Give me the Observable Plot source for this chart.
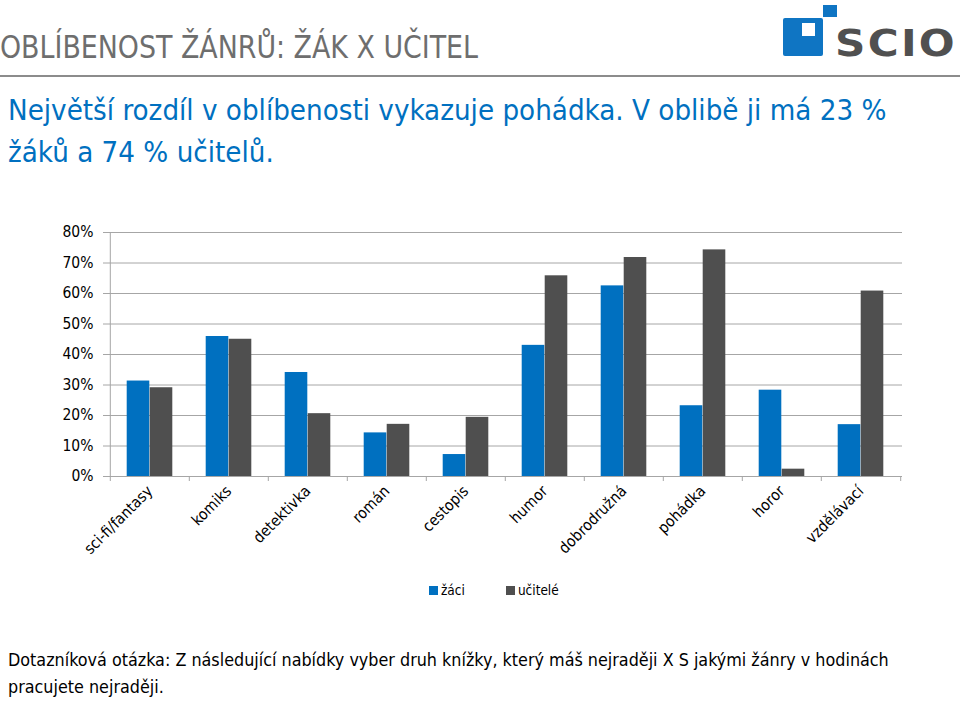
<!DOCTYPE html>
<html><head><meta charset="utf-8">
<script src="https://cdn.jsdelivr.net/npm/d3@7"></script>
<script src="https://cdn.jsdelivr.net/npm/@observablehq/plot@0.6"></script>
<style>
body{margin:0;background:#fff;width:960px;height:722px;position:relative;overflow:hidden;font-family:"DejaVu Sans Condensed","DejaVu Sans",Tahoma,sans-serif}
#title{position:absolute;left:0;top:27px;font-size:32px;line-height:40px;color:#6e6e6e;white-space:nowrap;transform-origin:0 0}
#rule{position:absolute;left:0;top:75px;width:960px;height:2px;background:#8c8c8c}
#subtitle{position:absolute;left:8px;top:89px;font-size:29.2px;line-height:42px;color:#0070c0;width:945px}
#chart{position:absolute;left:0;top:220px}
#legend{position:absolute;top:582px;left:429px;font-size:13.5px;color:#000;display:flex;align-items:center;white-space:nowrap}
#legend .sw{display:inline-block;width:9px;height:9px;margin-right:3px}
#caption{position:absolute;left:8px;top:646px;font-size:17.8px;line-height:27px;color:#000;white-space:nowrap}
.logo{position:absolute}
#scio{font-family:"DejaVu Sans",sans-serif;font-weight:bold;font-size:37px;letter-spacing:2px;color:#505050;line-height:40px;white-space:nowrap;transform-origin:0 0}
</style></head>
<body>
<div id="title">OBLÍBENOST ŽÁNRŮ: ŽÁK X UČITEL</div>
<div id="rule"></div>
<div class="logo" style="left:783px;top:18px;width:40px;height:38px;background:#0f75c3;border-radius:2px"></div>
<div class="logo" style="left:802px;top:23px;width:13px;height:13px;background:#fff"></div>
<div class="logo" style="left:823px;top:5px;width:14px;height:12px;background:#0f75c3"></div>
<div class="logo" id="scio" style="left:835px;top:24px">SCIO</div>
<div id="subtitle">Největší rozdíl v oblíbenosti vykazuje pohádka. V oblibě ji má 23 % žáků a 74 % učitelů.</div>
<div id="chart"></div>
<div id="legend"><span class="sw" style="background:#0070c0"></span><span style="margin-right:41px">žáci</span><span class="sw" style="background:#4f4f4f"></span><span>učitelé</span></div>
<div id="caption">Dotazníková otázka: Z následující nabídky vyber druh knížky, který máš nejraději X S jakými žánry v hodinách<br>pracujete nejraději.</div>
<script>
const categories = ["sci-fi/fantasy","komiks","detektivka","román","cestopis","humor","dobrodružná","pohádka","horor","vzdělávací"];
const seriesNames = ["žáci","učitelé"];
const zaci    = [31.3, 45.9, 34.1, 14.3, 7.2, 43.0, 62.5, 23.2, 28.3, 17.0];
const ucitele = [29.1, 45.0, 20.6, 17.1, 19.4, 65.8, 71.8, 74.3, 2.4, 60.8];
const yTicks = [0,10,20,30,40,50,60,70,80];
const colors = ["#0070c0", "#4f4f4f"];

const rows = [];
categories.forEach((c,i)=>{
  rows.push({genre:c, series:seriesNames[0], value:zaci[i]});
  rows.push({genre:c, series:seriesNames[1], value:ucitele[i]});
});

const width = 960, mL = 108, mR = 58;
const bw = (width - mL - mR) / categories.length;
const half = 23;
const grid = "#a6a6a6";

const chart = Plot.plot({
  width, height: 350,
  marginTop: 12, marginBottom: 94, marginLeft: mL, marginRight: mR,
  style: {fontFamily: "'DejaVu Sans Condensed', 'DejaVu Sans', Tahoma, sans-serif", fontSize: "15px", color: "#000", background: "transparent", overflow: "visible"},
  x: {domain: categories, padding: 0, label: null, axis: null},
  y: {domain: [0, 80], label: null, axis: null},
  color: {domain: seriesNames, range: colors},
  marks: [
    Plot.ruleY(yTicks, {stroke: grid, strokeWidth: 1}),
    Plot.ruleX([categories[0]], {dx: -bw/2, stroke: grid}),
    Plot.axisY({ticks: yTicks, tickFormat: d => d + "%", tickSize: 5, tickPadding: 10, fontSize: 15.5, stroke: grid, fill: "#000", label: null}),
    Plot.axisX({tickSize: 5, tickFormat: () => "", dx: -bw/2, stroke: grid, label: null}),
    Plot.axisX({ticks: [categories[categories.length-1]], tickSize: 5, tickFormat: () => "", dx: bw/2, stroke: grid, label: null}),
    Plot.axisX({tickSize: 0, tickRotate: -45, tickPadding: 12, fontSize: 15.5, fill: "#000", label: null}),
    Plot.barY(rows.filter(d => d.series === seriesNames[0]), {x: "genre", y: "value", fill: "series", insetLeft: bw/2 - half, insetRight: bw/2}),
    Plot.barY(rows.filter(d => d.series === seriesNames[1]), {x: "genre", y: "value", fill: "series", insetLeft: bw/2, insetRight: bw/2 - half})
  ]
});
document.getElementById("chart").appendChild(chart);

function fitWidth(id, target) {
  const el = document.getElementById(id);
  const w = el.getBoundingClientRect().width;
  el.style.transform = `scaleX(${target / w})`;
}
fitWidth("title", 478);
fitWidth("scio", 122);
</script>
</body></html>
